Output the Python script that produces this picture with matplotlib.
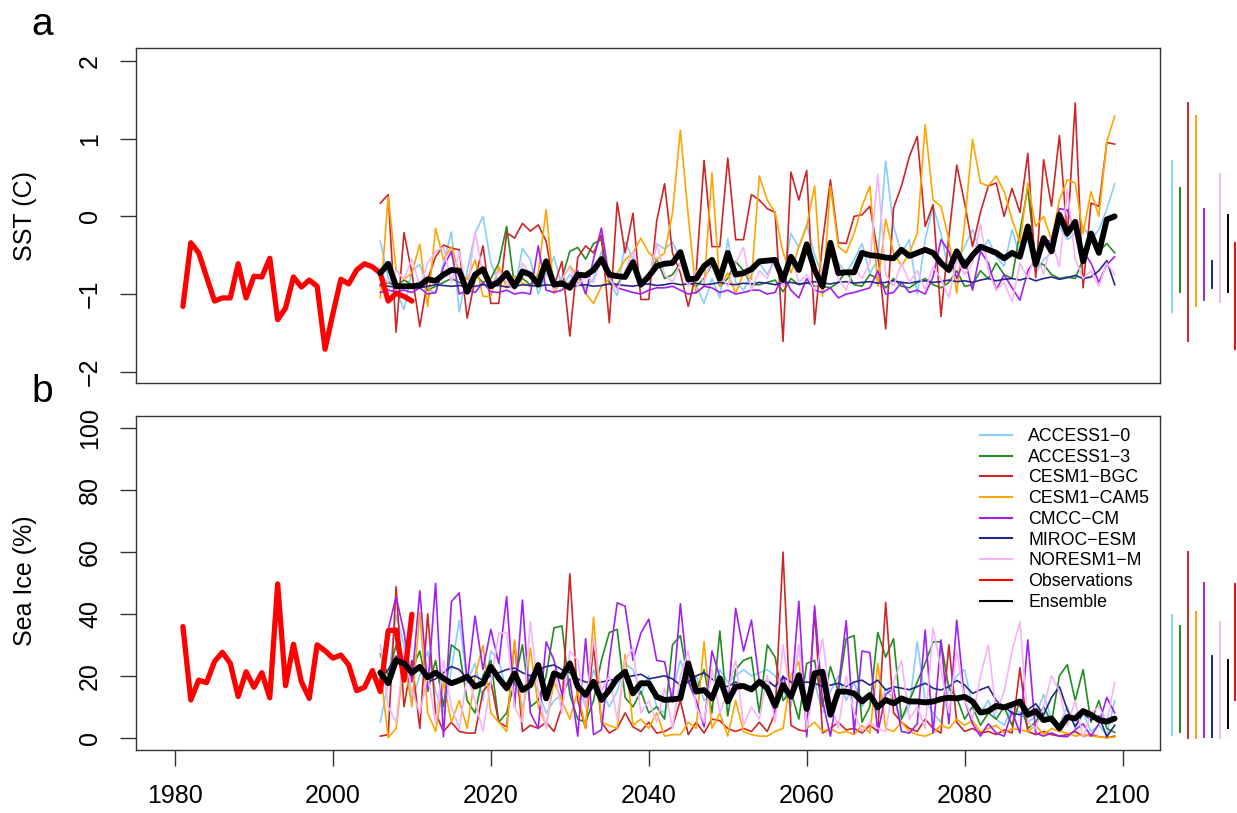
import numpy as np
import matplotlib
matplotlib.use("Agg")
import matplotlib.pyplot as plt
from matplotlib.lines import Line2D

plt.rcParams["font.family"] = ["Liberation Sans", "DejaVu Sans"]

years = np.arange(2006, 2100)
obs_years = np.arange(1981, 2011)

models = ["ACCESS1\u22120", "ACCESS1\u22123", "CESM1\u2212BGC", "CESM1\u2212CAM5",
          "CMCC\u2212CM", "MIROC\u2212ESM", "NORESM1\u2212M"]
colors = ["#87CEFA", "#228B22", "#CD2626", "#FFA500", "#A020F0", "#27278A", "#F7B3F7"]
obs_color = "#FF0000"

# ---- SST (C) ----
sst_access10 = [-0.32, -0.80, -0.95, -1.20, -0.70, -0.62, -0.92, -1.00, -0.60, -0.20,
                -1.23, -0.70, -0.22, 0.00, -0.60, -0.85, -0.80, -0.95, -0.41, -0.56,
                -1.00, -0.75, -0.52, -0.90, -0.75, -0.85, -0.92, -0.80, -0.45, -0.85,
                -1.02, -0.33, -0.55, -0.85, -0.88, -0.35, -0.42, -0.33, -0.56, -0.80,
                -0.88, -1.12, -0.80, -1.05, -0.29, -0.85, -0.95, -0.75, -0.60, -0.75,
                -0.53, -0.85, -0.22, -0.40, -0.10, -0.50, -0.75, -0.35, -0.60, -0.73,
                -0.56, -0.35, -0.73, -0.56, 0.71, -0.13, -0.47, -0.30, -1.00, -0.30,
                0.13, -0.22, -0.73, -0.56, -0.39, -0.17, -0.47, -0.30, -0.52, -0.64,
                -0.17, -0.52, -0.30, -0.73, -0.56, -0.47, -0.13, -0.30, -0.22, -0.13,
                -0.30, -0.17, 0.09, 0.42]
sst_access13 = [-0.90, -0.85, -0.90, -0.82, -0.88, -0.85, -0.95, -0.90, -0.85, -0.80,
                -0.85, -0.90, -0.75, -0.85, -0.80, -0.60, -0.13, -0.90, -0.80, -0.88,
                -0.75, -0.55, -0.90, -0.80, -0.45, -0.40, -0.55, -0.35, -0.30, -0.85,
                -0.88, -0.75, -0.60, -0.85, -0.80, -0.55, -0.80, -0.75, -0.60, -0.85,
                -0.90, -0.80, -0.62, -0.90, -0.80, -0.58, -0.70, -0.88, -0.88, -0.85,
                -0.82, -0.97, -0.80, -0.88, -0.85, -0.90, -0.90, -0.92, -0.85, -0.70,
                -0.88, -0.90, -0.75, -0.80, -0.92, -0.80, -0.90, -0.92, -0.85, -0.80,
                -0.88, -0.92, -0.85, -0.70, -0.90, -0.88, -0.70, -0.80, -0.60, -0.75,
                -0.80, -0.20, 0.37, -0.60, -0.62, -0.75, -0.80, -0.78, -0.80, -0.55,
                -0.30, -0.45, -0.35, -0.47]
sst_cesm_bgc = [0.17, 0.28, -1.49, -0.21, -0.73, -1.42, -0.81, -0.52, -0.37, -0.41,
                -0.43, -1.31, -0.81, -0.38, -1.12, -1.12, -0.21, -0.28, -0.09, -0.19,
                -0.11, -0.32, -0.90, -0.58, -1.54, -0.53, -0.38, -0.47, -0.24, -1.37,
                0.18, -0.47, 0.04, -1.07, -1.07, -0.06, 0.42, -0.47, -0.73, -1.16,
                -0.73, 0.72, -0.39, -0.39, 0.75, -0.30, -0.30, 0.28, 0.21, 0.10,
                0.05, -1.61, 0.57, 0.21, 0.59, -1.39, -0.34, 0.47, -0.34, -0.35,
                0.00, 0.02, 0.13, -0.47, -1.45, 0.11, 0.39, 0.77, 1.03, -0.13,
                0.15, -1.29, -0.26, 0.66, 0.17, -0.39, 0.05, 0.39, 0.43, 0.00,
                0.36, 0.05, 0.81, -0.79, 0.73, 0.13, 1.04, -0.26, 1.46, -0.92,
                0.17, 0.13, 0.95, 0.93]
sst_cesm_cam5 = [-1.05, 0.25, -0.69, -0.81, -0.73, -0.36, -1.16, -0.15, -0.56, -0.39,
                 -0.73, -0.81, -0.56, -1.03, -1.03, -0.64, -0.92, -0.77, -0.86, -0.90,
                 -0.73, 0.09, -0.99, -0.81, -0.64, -0.77, -0.99, -1.12, -0.90, -0.81,
                 -0.73, -0.56, -0.47, -0.28, -0.47, -0.56, -0.47, 0.04, 1.11, 0.00,
                 -0.99, -0.90, 0.56, -0.90, -0.73, -0.99, -0.73, -0.81, 0.52, 0.21,
                 0.05, -0.47, -0.73, -0.39, -0.13, 0.39, -1.03, 0.39, -0.39, -0.47,
                 -0.22, 0.13, 0.39, -0.90, -0.04, -0.47, -0.64, -0.47, -0.22, 1.18,
                 0.21, 0.13, -0.30, -0.99, -0.09, 0.99, 0.43, 0.39, 0.52, 0.32,
                 -0.04, -0.34, 0.43, -0.13, 0.00, -0.30, 0.21, 0.47, 0.43, -0.22,
                 0.32, 0.00, 0.96, 1.29]
sst_cmcc = [-0.98, -0.95, -0.97, -0.95, -0.98, -0.92, -1.00, -0.98, -0.65, -0.45,
            -1.00, -0.95, -0.98, -0.85, -0.97, -0.98, -0.95, -1.00, -0.98, -1.00,
            -0.38, -0.95, -0.98, -0.95, -0.85, -0.70, -1.00, -0.55, -0.15, -0.80,
            -0.92, -0.95, -0.98, -1.00, -0.95, -0.92, -0.92, -0.90, -0.95, -1.00,
            -0.98, -0.90, -0.92, -0.98, -0.95, -1.00, -0.98, -0.95, -0.95, -1.00,
            -0.98, -0.75, -0.95, -1.05, -0.80, -0.95, -0.98, -0.92, -1.05, -1.00,
            -0.98, -0.95, -0.92, -0.70, -1.00, -0.98, -0.85, -0.98, -0.95, -1.00,
            -0.78, -0.30, -0.45, -0.80, -0.55, -0.95, -0.45, -0.60, -0.95, -0.75,
            -0.92, -1.08, -0.70, -0.55, -0.35, -0.30, 0.10, 0.08, -0.20, -0.45,
            -0.60, -0.85, -0.62, -0.52]
sst_miroc = [-0.88, -0.90, -0.91, -0.90, -0.89, -0.92, -0.90, -0.88, -0.89, -0.90,
             -0.89, -0.91, -0.90, -0.88, -0.90, -0.89, -0.91, -0.90, -0.88, -0.89,
             -0.90, -0.88, -0.89, -0.90, -0.91, -0.89, -0.88, -0.90, -0.89, -0.87,
             -0.88, -0.89, -0.90, -0.88, -0.87, -0.89, -0.88, -0.86, -0.88, -0.87,
             -0.86, -0.88, -0.87, -0.85, -0.87, -0.88, -0.86, -0.87, -0.85, -0.86,
             -0.88, -0.86, -0.85, -0.87, -0.86, -0.84, -0.86, -0.87, -0.85, -0.84,
             -0.86, -0.85, -0.84, -0.86, -0.85, -0.83, -0.85, -0.86, -0.84, -0.83,
             -0.85, -0.84, -0.82, -0.84, -0.83, -0.85, -0.82, -0.80, -0.83, -0.81,
             -0.80, -0.82, -0.79, -0.83, -0.80, -0.78, -0.81, -0.79, -0.76, -0.80,
             -0.78, -0.70, -0.57, -0.88]
sst_noresm = [-0.75, -0.85, -0.70, -0.80, -0.55, -0.90, -0.60, -0.45, -0.40, -0.85,
              -0.45, -1.00, -0.20, -0.75, -0.90, -0.70, -0.85, -0.95, -0.60, -0.75,
              -0.90, -0.70, -0.95, -0.80, -0.65, -0.90, -0.75, -0.85, -0.55, -0.80,
              -0.95, -0.70, -0.45, -0.90, -0.80, -0.35, -0.75, -0.85, -0.60, -0.90,
              -0.70, -0.85, -0.55, -0.75, -0.90, -0.60, -0.40, -0.95, -0.70, -0.80,
              -0.55, -0.90, -0.50, -0.85, -0.75, -0.95, -0.65, -0.45, -0.80, -0.95,
              -0.65, -0.80, -0.60, 0.54, -0.75, -0.90, -0.60, -0.85, -0.70, -0.95,
              -0.65, -0.80, -1.05, -0.55, -0.75, -0.60, -0.10, -0.70, -0.95, -0.85,
              -1.10, -0.60, -0.80, -0.45, -0.75, -0.30, -0.65, 0.35, -0.55, -0.80,
              -0.70, -0.90, -0.60, -0.75]
sst_ensemble = [-0.73, -0.61, -0.90, -0.90, -0.90, -0.89, -0.81, -0.83, -0.75, -0.69,
                -0.70, -0.97, -0.75, -0.68, -0.90, -0.84, -0.73, -0.90, -0.71, -0.75,
                -0.88, -0.58, -0.88, -0.86, -0.92, -0.75, -0.76, -0.69, -0.55, -0.75,
                -0.77, -0.78, -0.59, -0.88, -0.77, -0.64, -0.61, -0.60, -0.46, -0.81,
                -0.80, -0.64, -0.56, -0.80, -0.47, -0.75, -0.73, -0.68, -0.58, -0.57,
                -0.56, -0.82, -0.52, -0.69, -0.36, -0.69, -0.90, -0.34, -0.73, -0.72,
                -0.72, -0.47, -0.50, -0.51, -0.53, -0.54, -0.43, -0.51, -0.47, -0.43,
                -0.47, -0.60, -0.69, -0.45, -0.64, -0.50, -0.39, -0.43, -0.47, -0.54,
                -0.47, -0.52, -0.13, -0.62, -0.28, -0.45, 0.02, -0.22, -0.07, -0.58,
                -0.22, -0.47, -0.04, 0.00]
sst_obs = [-1.16, -0.34, -0.47, -0.78, -1.09, -1.05, -1.05, -0.61, -1.05, -0.77,
           -0.78, -0.54, -1.33, -1.18, -0.78, -0.91, -0.82, -0.90, -1.71, -1.25,
           -0.81, -0.87, -0.69, -0.61, -0.65, -0.73, -1.09, -0.99, -1.03, -1.09]

# ---- Sea ice (%) ----
ice_access10 = [5, 18, 39.7, 30, 12, 20, 28, 15, 8, 22,
                38, 18, 24, 12, 28, 25, 15, 18, 10, 20,
                15, 8, 12, 14, 25, 18, 10, 22, 15, 10,
                15, 24, 22, 14, 20, 10, 8, 15, 25, 18,
                20, 12, 14, 22, 18, 20, 22, 20, 21, 22,
                20, 15, 10, 30, 12, 18, 8, 15, 20, 12,
                18, 10, 14, 8, 16, 12, 6, 10, 31, 12,
                8, 5, 16, 20, 22, 10, 8, 12, 6, 4,
                10, 8, 5, 7, 14, 6, 4, 10, 3, 8,
                2, 4, 0.9, 12]
ice_access13 = [27, 20, 30, 18, 22, 28, 15, 25, 10, 30,
                28, 12, 8, 20, 25, 5, 8, 18, 30, 10,
                12, 20, 35.5, 36.1, 14, 6, 5, 12, 25, 34,
                35, 13, 10, 15, 8, 10, 6, 30, 33, 18,
                15, 22, 8, 34.5, 7, 22, 25, 26, 8, 30,
                26, 12, 15, 6, 24, 25, 10, 23, 15, 32,
                33, 5, 10, 34, 26, 32, 6, 12, 18, 24,
                31, 31, 16, 13, 6, 10, 4, 8, 6, 10,
                4, 12, 3, 5, 10, 5, 20, 23.6, 12, 22,
                5, 12, 3, 1.7]
ice_cesm_bgc = [0.5, 1.0, 48.8, 10, 25, 3, 40, 8, 2, 5,
                2, 1.5, 1.5, 15, 18, 5, 3.5, 31, 2, 4,
                3, 5, 2, 10, 53, 12, 3, 29.8, 5, 1.5,
                3, 8, 3.5, 2, 5, 1.5, 2, 3.5, 12, 1,
                5, 1.5, 6, 5.5, 3, 2, 3, 2, 5, 2,
                8, 60, 4, 2.5, 2, 41, 1.5, 3, 5, 2.5,
                3, 1.5, 4, 2, 43.7, 8, 5, 3, 2, 6,
                3, 1.5, 30, 5, 2, 3, 1.5, 2, 1, 2.5,
                1.5, 22.6, 2, 1, 2, 1, 0.5, 1, 2, 0.5,
                1, 0.3, 0, 0.5]
ice_cesm_cam5 = [22, 0, 3, 25, 10, 40.5, 8, 2, 18, 5,
                 12, 3, 20, 29.8, 8, 5, 2, 31.6, 6, 29,
                 10, 4, 18, 12, 6, 15, 3, 39, 5, 4,
                 3, 26.9, 4, 6, 3, 8, 0.5, 1, 1, 5,
                 3, 31.1, 3, 8, 0.5, 12, 2, 1, 0.5, 0.5,
                 2, 3, 20, 24.6, 3, 5, 2, 3, 1.5, 2,
                 1, 4, 1.5, 24, 3, 2, 5, 2, 1, 0.5,
                 1.5, 4, 3, 6, 4, 5.5, 2, 3, 4, 1.5,
                 3, 2.5, 2, 4, 1, 3, 2, 1.5, 0.5, 1,
                 0.5, 0.3, 0, 0.2]
ice_cmcc = [15, 35, 45.6, 34, 18, 47.5, 16, 49.9, 0.3, 44,
            46.8, 18, 39.3, 22, 35, 24, 45.6, 10, 44.5, 8,
            3, 31, 25, 14, 19, 0.5, 32, 1, 2.5, 25,
            43.6, 42.5, 25, 33.8, 38.3, 25, 24.5, 11.5, 43.3, 18,
            12, 3.5, 28, 19.5, 11, 41.8, 28, 38, 18, 15,
            8, 20, 12, 44.1, 0.3, 42.6, 12, 0.5, 16, 37.8,
            1.5, 28, 27.5, 1.5, 14, 16, 2, 1.5, 4.5, 34.8,
            1.5, 31.6, 4.5, 38, 12, 4.5, 0.5, 4.5, 1.5, 0.5,
            8.5, 1.5, 31.6, 1.5, 0.5, 1.5, 0.5, 0.3, 2.5, 4.5,
            0.5, 4.5, 13, 8]
ice_miroc = [19, 22, 26.4, 24, 21, 23, 18, 19, 21, 23,
             22, 19, 20, 18.5, 20, 21, 22, 22.5, 21, 20,
             22, 23, 23.5, 22, 21, 19, 18, 17.5, 18, 18.5,
             19, 19.5, 20, 20.5, 19, 19.5, 20, 19, 17, 18,
             20, 21, 19, 17, 16.5, 18, 17, 16, 17, 18.5,
             16.5, 19.7, 18, 17.5, 18, 17.6, 16.5, 17, 17.6, 16.5,
             18, 18.6, 17, 18.6, 15.4, 16.5, 16, 15.5, 16.5, 17.6,
             16, 15.4, 16.5, 18.5, 17, 14.3, 15.5, 16.5, 12, 10,
             8, 7.4, 9, 11, 7.4, 13, 16.5, 9, 3.6, 8,
             5.7, 7, 0.3, 4]
ice_noresm = [30, 10, 5, 28, 15, 8, 20, 5, 25, 10,
              3, 20, 12, 2, 18, 33.8, 34, 10, 5, 37.5,
              15, 3, 22, 8, 28, 25, 10, 32, 15, 20,
              6, 25, 29, 8, 12, 5, 16, 3, 20, 28,
              10, 5, 22, 8, 15, 25, 4, 10, 6, 20,
              5, 30, 12, 30, 3, 18, 32, 12, 3, 20,
              8, 2, 5, 3, 2, 18, 25, 6, 10, 3,
              35.6, 22, 8, 28, 12, 6, 20, 30, 8, 15,
              28, 37.5, 5, 3, 10, 20, 15, 4, 12, 0,
              8, 10, 5, 18]
ice_ensemble = [21.0, 17.6, 25.0, 24.0, 21.0, 22.9, 19.5, 21.0, 19.2, 17.6,
                18.5, 19.7, 16.5, 17.6, 22.9, 19.2, 16.0, 20.8, 15.4, 17.0,
                23.5, 12.7, 20.8, 19.7, 24.0, 16.5, 13.8, 18.1, 12.2, 15.4,
                19.2, 21.3, 14.3, 17.6, 17.6, 13.2, 12.2, 12.4, 12.7, 24.0,
                14.9, 15.4, 12.7, 19.2, 11.7, 16.5, 16.7, 15.6, 18.1, 16.0,
                10.3, 17.0, 13.2, 20.2, 9.3, 20.8, 21.3, 7.4, 14.9, 14.9,
                14.3, 11.7, 13.8, 9.8, 12.2, 11.1, 12.7, 11.7, 11.7, 11.4,
                11.7, 12.5, 12.9, 12.7, 13.2, 11.7, 8.1, 8.6, 10.3, 9.8,
                10.7, 11.7, 7.4, 8.6, 5.7, 6.2, 3.0, 6.7, 6.2, 8.6,
                7.4, 5.7, 5.2, 6.2]
ice_obs = [35.9, 12.2, 18.6, 17.8, 24.6, 27.6, 24.0, 13.3, 21.3, 16.3,
           21.0, 12.9, 49.7, 16.8, 30.2, 18.1, 12.7, 30.0, 28.1, 25.7,
           26.7, 23.5, 15.2, 16.3, 21.7, 14.9, 34.6, 34.8, 18.6, 39.9]

sst_models = [sst_access10, sst_access13, sst_cesm_bgc, sst_cesm_cam5,
              sst_cmcc, sst_miroc, sst_noresm]
ice_models = [ice_access10, ice_access13, ice_cesm_bgc, ice_cesm_cam5,
              ice_cmcc, ice_miroc, ice_noresm]

W, H = 1237, 813
fig = plt.figure(figsize=(W / 100, H / 100), dpi=100)
ax_a = fig.add_axes([136 / W, 1 - 383 / H, 1024 / W, 335 / H])
ax_b = fig.add_axes([136 / W, 1 - 750 / H, 1024 / W, 334.3 / H])


def draw_panel(ax, model_vals, ens, obs, ylim, yticks):
    for vals, col in zip(model_vals, colors):
        ax.plot(years, vals, color=col, lw=1.2)
    ax.plot(obs_years, obs, color=obs_color, lw=3.8,
            solid_joinstyle="round", solid_capstyle="round")
    ax.plot(years, ens, color="black", lw=4.2,
            solid_joinstyle="round", solid_capstyle="round")

    # min/max range of every series, drawn outside the box on the right
    series = model_vals + [ens, obs]
    bar_cols = colors + ["black", obs_color]
    for i, (vals, col) in enumerate(zip(series, bar_cols)):
        ax.plot([2106.3 + i, 2106.3 + i], [min(vals), max(vals)],
                color=col, lw=1.4, clip_on=False)

    ax.set_xlim(1975.06, 2104.74)
    ax.set_ylim(*ylim)
    ax.set_yticks(yticks)
    for sp in ax.spines.values():
        sp.set_color("#333333")
        sp.set_linewidth(1.0)
    ax.tick_params(direction="out", length=11.5, width=1.0, labelsize=18,
                   pad=13, color="#333333", labelcolor="black")
    ax.tick_params(axis="y", labelrotation=90)
    for t in ax.get_yticklabels():
        t.set_va("center")


draw_panel(ax_a, sst_models, sst_ensemble, sst_obs, (-2.145, 2.167), [-2, -1, 0, 1, 2])
ax_a.set_xticks([])

draw_panel(ax_b, ice_models, ice_ensemble, ice_obs, (-3.98, 104.07), [0, 20, 40, 60, 80, 100])
ax_b.set_xticks([1980, 2000, 2020, 2040, 2060, 2080, 2100])

fig.text(25 / W, 1 - 215.5 / H, "SST (C)", rotation=90, ha="center", va="center", fontsize=18)
fig.text(25 / W, 1 - 581 / H, "Sea Ice (%)", rotation=90, ha="center", va="center", fontsize=18)
fig.text(42 / W, 1 - 35 / H, "a", ha="center", va="baseline", fontsize=28)
fig.text(42 / W, 1 - 402 / H, "b", ha="center", va="baseline", fontsize=28)

handles = [Line2D([], [], color=c, lw=1.5) for c in colors + [obs_color, "black"]]
labels = models + ["Observations", "Ensemble"]
ax_b.legend(handles, labels, loc="upper left", bbox_to_anchor=(980 / W, 1 - 428 / H),
            bbox_transform=fig.transFigure, frameon=False, fontsize=12.8,
            borderpad=0, borderaxespad=0, handlelength=1.8, handletextpad=0.9,
            labelspacing=0.21)

fig.savefig("out.png", dpi=100)
